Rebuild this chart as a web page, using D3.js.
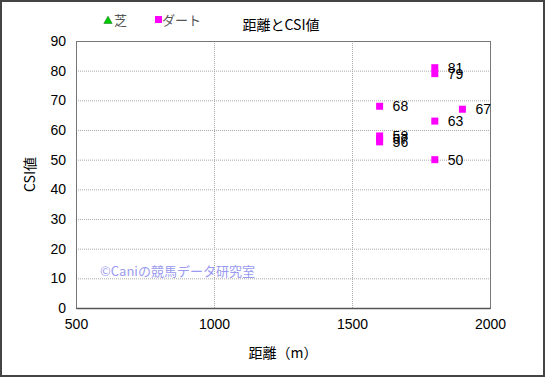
<!DOCTYPE html>
<html lang="ja">
<head>
<meta charset="utf-8">
<script src="https://cdn.jsdelivr.net/npm/d3@7"></script>
<style>
  body { margin: 0; background: #fff; }
  text { font-family: "Liberation Sans", Arial, "Noto Sans CJK JP", sans-serif; }
  .jp { font-family: "Noto Sans CJK JP", sans-serif; }
</style>
</head>
<body>
<svg id="chart" width="545" height="377"></svg>
<script>
  // data
  var distance = [1600, 1600, 1600, 1600, 1800, 1800, 1800, 1800, 1900];
  var csi      = [68,   58,   57,   56,   81,   79,   63,   50,   67];
  var xTicks = [500, 1000, 1500, 2000];
  var yTicks = [0, 10, 20, 30, 40, 50, 60, 70, 80, 90];

  var svg = d3.select('#chart');
  var W = 545, H = 377;
  var m = { left: 76, right: 490, top: 41, bottom: 308 };

  // outer frame
  svg.append('rect')
    .attr('x', 1).attr('y', 1).attr('width', W - 2).attr('height', H - 2)
    .attr('fill', '#fff').attr('stroke', '#444').attr('stroke-width', 2);

  var x = d3.scaleLinear().domain([500, 2000]).range([m.left, m.right]);
  var y = d3.scaleLinear().domain([0, 90]).range([m.bottom, m.top]);

  // grid
  var g = svg.append('g');
  g.selectAll('.hg').data(yTicks.slice(1, -1)).enter().append('line')
    .attr('x1', m.left).attr('x2', m.right)
    .attr('y1', d => y(d) + 0.5).attr('y2', d => y(d) + 0.5)
    .attr('stroke', '#aaa').attr('stroke-dasharray', '1,1');
  g.selectAll('.vg').data(xTicks.slice(1, -1)).enter().append('line')
    .attr('y1', m.top).attr('y2', m.bottom)
    .attr('x1', d => x(d) + 0.5).attr('x2', d => x(d) + 0.5)
    .attr('stroke', '#aaa').attr('stroke-dasharray', '1,1');

  // plot border
  svg.append('rect')
    .attr('x', m.left + 0.5).attr('y', m.top + 0.5)
    .attr('width', m.right - m.left).attr('height', m.bottom - m.top)
    .attr('fill', 'none').attr('stroke', '#777').attr('stroke-width', 1);
  svg.append('line')
    .attr('x1', m.left + 0.5).attr('x2', m.right + 0.5)
    .attr('y1', m.bottom + 0.5).attr('y2', m.bottom + 0.5)
    .attr('stroke', '#555').attr('stroke-width', 1.5);

  // axes
  var xAxis = svg.append('g')
    .attr('transform', 'translate(0,' + (m.bottom + 1) + ')')
    .call(d3.axisBottom(x).tickValues(xTicks).tickFormat(d3.format('d')).tickSize(0).tickPadding(10));
  var yAxis = svg.append('g')
    .attr('transform', 'translate(' + m.left + ',0)')
    .call(d3.axisLeft(y).tickValues(yTicks).tickFormat(d3.format('d')).tickSize(0).tickPadding(10));
  [xAxis, yAxis].forEach(a => {
    a.select('.domain').remove();
    a.selectAll('text').attr('font-size', 14).attr('fill', '#000')
      .style('font-family', '"Liberation Sans", Arial, sans-serif');
  });

  // watermark
  svg.append('text').attr('class', 'jp')
    .attr('x', 100).attr('y', 276)
    .attr('font-size', 13).attr('fill', '#9a9af0')
    .text('©Caniの競馬データ研究室');

  // points
  var pts = distance.map((d, i) => ({ d: d, v: csi[i] }));
  svg.selectAll('.pt').data(pts).enter().append('rect')
    .attr('x', p => x(p.d) - 3.5).attr('y', p => y(p.v) - 3.5)
    .attr('width', 7).attr('height', 7)
    .attr('fill', '#ff00ff');
  svg.selectAll('.lbl').data(pts).enter().append('text')
    .attr('x', p => x(p.d) + 13).attr('y', p => y(p.v) + 5)
    .attr('font-size', 14).attr('fill', '#000')
    .style('font-family', '"Liberation Sans", Arial, sans-serif')
    .text(p => p.v);

  // titles
  svg.append('text').attr('class', 'jp')
    .attr('x', 281).attr('y', 30).attr('text-anchor', 'middle')
    .attr('font-size', 14).text('距離とCSI値');
  svg.append('text').attr('class', 'jp')
    .attr('x', 283).attr('y', 358).attr('text-anchor', 'middle')
    .attr('font-size', 14).text('距離（m）');
  svg.append('text').attr('class', 'jp')
    .attr('transform', 'translate(35,' + ((m.top + m.bottom) / 2) + ') rotate(-90)')
    .attr('text-anchor', 'middle')
    .attr('font-size', 14).text('CSI値');

  // legend
  var leg = svg.append('g');
  leg.append('path')
    .attr('d', d3.symbol().type(d3.symbolTriangle).size(30)())
    .attr('transform', 'translate(108,21)')
    .attr('fill', '#00cc00').attr('stroke', '#006600').attr('stroke-width', 0.5);
  leg.append('text').attr('class', 'jp')
    .attr('x', 114).attr('y', 25).attr('font-size', 13).attr('fill', '#555').text('芝');
  leg.append('rect')
    .attr('x', 155).attr('y', 16).attr('width', 7).attr('height', 7).attr('fill', '#ff00ff');
  leg.append('text').attr('class', 'jp')
    .attr('x', 162).attr('y', 25).attr('font-size', 13).attr('fill', '#555').text('ダート');
</script>
</body>
</html>
